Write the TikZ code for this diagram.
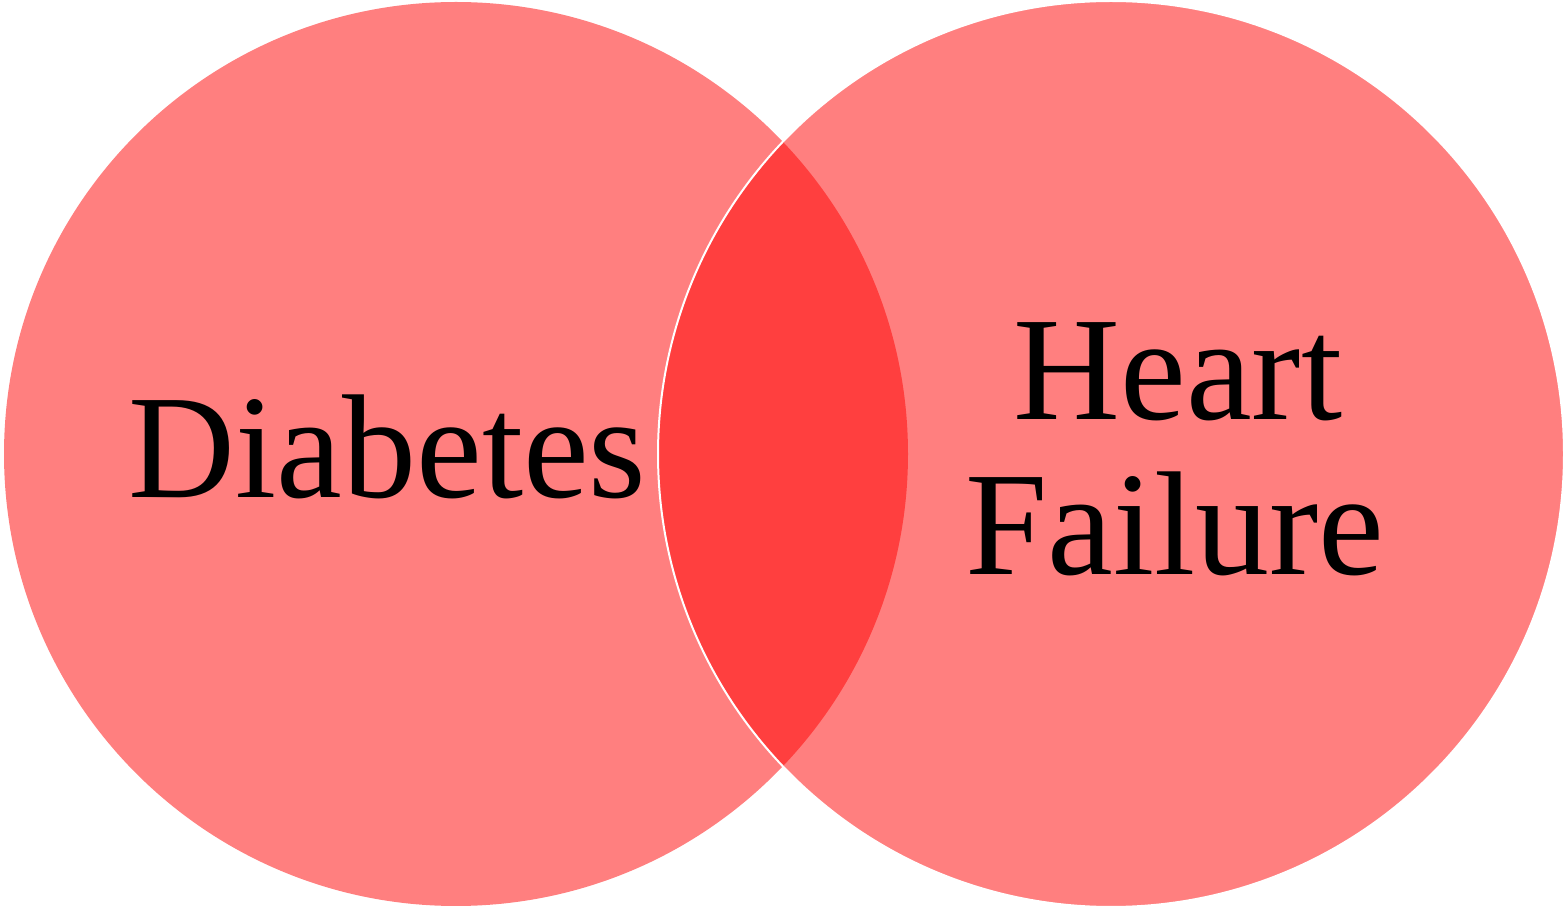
\documentclass[tikz,border=0pt]{standalone}
\usepackage{fontspec}
\setmainfont{Liberation Serif}
\begin{document}
\begin{tikzpicture}[x=1pt,y=1pt,
  setcircle/.style={circle, inner sep=0pt, outer sep=0pt, fill=red, fill opacity=0.5},
  biglabel/.style={anchor=base, text=black, inner sep=0pt, font=\fontsize{148}{155}\selectfont}]
\useasboundingbox (0,0) rectangle (1567,908);
\fill[white] (0,0) rectangle (1567,908);
\node[setcircle, minimum size=904pt] (diab) at (456,454) {};
\node[setcircle, minimum size=906pt, draw=white, line width=2pt, draw opacity=1] (hf) at (1111,454) {};
\node[biglabel] (tdiab) at (387.5,410) {Diabetes};
\node[biglabel] (theart) at (1178,488) {Heart};
\node[biglabel] (tfail) at (1175,333) {Failure};
\end{tikzpicture}
\end{document}
